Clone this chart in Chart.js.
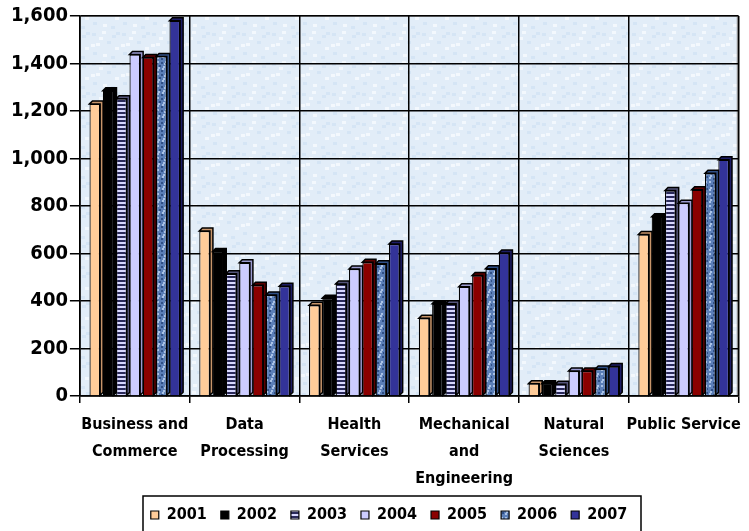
<!DOCTYPE html>
<html>
<head>
<meta charset="utf-8">
<script src="https://cdn.jsdelivr.net/npm/chart.js@4/dist/chart.umd.min.js"></script>
<style>
  body { margin: 0; background: #fff; }
  #wrap { width: 749px; height: 531px; }
</style>
</head>
<body>
<div id="wrap"><canvas id="chart" width="749" height="531"></canvas></div>
<script>
// data
const categories = [
  ["Business and", "Commerce"],
  ["Data", "Processing"],
  ["Health", "Services"],
  ["Mechanical", "and", "Engineering"],
  ["Natural", "Sciences"],
  "Public Service"
];
const years = ["2001", "2002", "2003", "2004", "2005", "2006", "2007"];
const y2001 = [1230, 695, 382, 327, 52, 680];
const y2002 = [1285, 608, 412, 388, 52, 755];
const y2003 = [1252, 515, 472, 388, 50, 865];
const y2004 = [1438, 561, 535, 460, 105, 812];
const y2005 = [1425, 466, 563, 507, 105, 868];
const y2006 = [1430, 425, 557, 536, 114, 938];
const y2007 = [1580, 462, 640, 602, 124, 995];
const yTicks = [0, 200, 400, 600, 800, 1000, 1200, 1400, 1600];

const FONT = "'DejaVu Sans Condensed', 'Liberation Sans', Arial, sans-serif";

// striped fill for 2003
function stripes() {
  const c = document.createElement("canvas");
  c.width = 4; c.height = 4;
  const g = c.getContext("2d");
  g.fillStyle = "#d8d8ff";
  g.fillRect(0, 0, 4, 4);
  g.fillStyle = "#2a2a5a";
  g.fillRect(0, 0, 4, 2);
  return g.createPattern(c, "repeat");
}

// mottled blue fill for 2006
function mottled(base, light, dark) {
  const c = document.createElement("canvas");
  c.width = 12; c.height = 12;
  const g = c.getContext("2d");
  g.fillStyle = base;
  g.fillRect(0, 0, 12, 12);
  const spots = [[1,1,light],[5,2,dark],[9,1,light],[3,5,dark],[7,6,light],[10,8,dark],[1,9,light],[5,10,dark],[8,3,light],[2,7,light],[11,4,dark],[6,8,light]];
  spots.forEach(s => { g.fillStyle = s[2]; g.fillRect(s[0], s[1], 2, 2); });
  return g.createPattern(c, "repeat");
}

function wallPattern() {
  const c = document.createElement("canvas");
  c.width = 30; c.height = 30;
  const g = c.getContext("2d");
  g.fillStyle = "#e2edf8";
  g.fillRect(0, 0, 30, 30);
  const spots = [[2,3],[12,1],[22,5],[6,13],[17,11],[25,17],[3,22],[13,24],[21,26],[9,7],[26,2],[1,14]];
  spots.forEach((s, i) => {
    g.fillStyle = i % 2 ? "#f3f8fd" : "#d5e5f5";
    g.fillRect(s[0], s[1], 4, 3);
  });
  return g.createPattern(c, "repeat");
}

const fills = ["#ffcc99", "#000000", stripes(), "#ccccff", "#8b0000",
  mottled("#5b7fb8", "#a9c2e6", "#2f4f86"), "#333399"];
const sides = ["#c8956a", "#000000", "#55557a", "#9a9ad0", "#5a0000", "#2f4f86", "#1c1c66"];
const series = [y2001, y2002, y2003, y2004, y2005, y2006, y2007];

// plot wall background and outer border
const wallPlugin = {
  id: "wall",
  beforeDraw(chart) {
    const a = chart.chartArea, ctx = chart.ctx;
    ctx.save();
    ctx.fillStyle = wallPattern();
    ctx.fillRect(a.left, a.top, a.right - a.left, a.bottom - a.top);
    ctx.strokeStyle = "#888";
    ctx.lineWidth = 1.5;
    ctx.strokeRect(a.left, a.top, a.right - a.left - 1, a.bottom - a.top);
    ctx.restore();
  }
};

// fake 3D depth behind each bar
const depthPlugin = {
  id: "depth",
  beforeDatasetsDraw(chart) {
    const ctx = chart.ctx, d = 3;
    ctx.save();
    chart.data.datasets.forEach((ds, i) => {
      chart.getDatasetMeta(i).data.forEach(bar => {
        const l = bar.x - bar.width / 2, r = bar.x + bar.width / 2;
        const t = bar.y, b = bar.base;
        ctx.beginPath();
        ctx.moveTo(l, t);
        ctx.lineTo(l + d, t - d);
        ctx.lineTo(r + d, t - d);
        ctx.lineTo(r + d, b - d);
        ctx.lineTo(r, b);
        ctx.lineTo(r, t);
        ctx.closePath();
        ctx.fillStyle = sides[i];
        ctx.fill();
        ctx.lineWidth = 1.5;
        ctx.strokeStyle = "#000";
        ctx.stroke();
      });
    });
    ctx.restore();
  }
};

// legend sits a bit right of centre, in a box that runs off the bottom
const legendBox = {
  id: "legendBox",
  afterLayout(chart) {
    chart.legend.left += 11;
    chart.legend.right += 11;
  },
  afterDraw(chart) {
    const lg = chart.legend, ctx = chart.ctx;
    ctx.save();
    ctx.strokeStyle = "#000";
    ctx.lineWidth = 1.5;
    ctx.strokeRect(143, lg.top + 3, 498, 60);
    ctx.restore();
  }
};

new Chart(document.getElementById("chart"), {
  type: "bar",
  data: {
    labels: categories,
    datasets: years.map((y, i) => ({
      label: y,
      data: series[i],
      backgroundColor: fills[i],
      borderColor: "#000",
      borderWidth: 1.2,
      categoryPercentage: 0.85,
      barPercentage: 0.8
    }))
  },
  options: {
    responsive: false,
    animation: false,
    layout: { padding: { top: 16, right: 2, left: 9, bottom: -2 } },
    scales: {
      x: {
        afterFit(scale) { scale.height -= 7; },
        grid: { color: "#000", lineWidth: 1.5, offset: true, tickLength: 7, tickColor: "#000" },
        border: { color: "#000", width: 1.5 },
        ticks: {
          color: "#000",
          padding: 8,
          maxRotation: 0,
          autoSkip: false,
          font: { family: FONT, size: 16, weight: "bold", lineHeight: 1.6875 }
        }
      },
      y: {
        min: 0,
        max: 1600,
        afterBuildTicks(axis) { axis.ticks = yTicks.map(v => ({ value: v })); },
        grid: { color: "#000", lineWidth: 1.5, tickLength: 10, tickColor: "#000" },
        border: { color: "#000", width: 1.5 },
        ticks: {
          color: "#000",
          padding: 2,
          font: { family: FONT, size: 20, weight: "bold" },
          callback: v => v.toLocaleString("en-US")
        }
      }
    },
    plugins: {
      legend: {
        position: "bottom",
        labels: {
          color: "#000",
          boxWidth: 8,
          boxHeight: 8,
          padding: 14,
          font: { family: FONT, size: 16, weight: "bold" }
        }
      },
      tooltip: { enabled: false }
    }
  },
  plugins: [wallPlugin, depthPlugin, legendBox]
});
</script>
</body>
</html>
